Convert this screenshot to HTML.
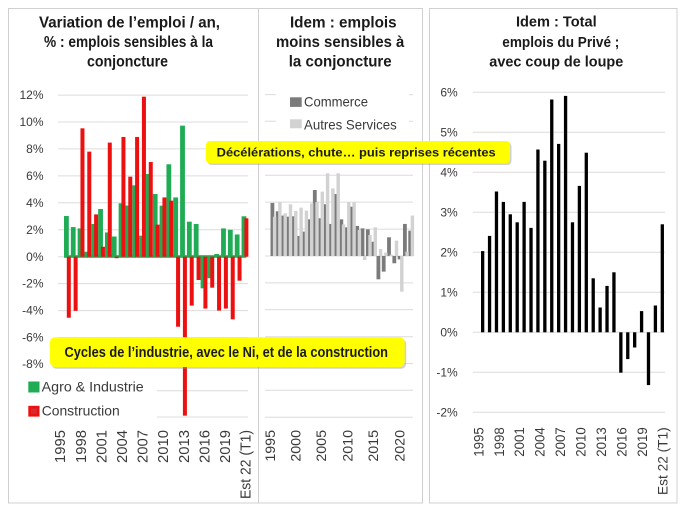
<!DOCTYPE html>
<html><head><meta charset="utf-8"><style>
html,body{margin:0;padding:0;background:#fff;}
svg{display:block;}
text{font-family:"Liberation Sans",Arial,sans-serif;}
</style></head><body>
<svg width="684" height="513" viewBox="0 0 684 513" xmlns="http://www.w3.org/2000/svg">
<rect x="0" y="0" width="684" height="513" fill="#fff"/>
<!-- frames -->
<rect x="8.5" y="8.5" width="414" height="494.5" fill="none" stroke="#d0d0d0" stroke-width="1"/>
<line x1="258.5" y1="8.5" x2="258.5" y2="503" stroke="#d0d0d0" stroke-width="1"/>
<rect x="429.5" y="8.5" width="247.5" height="494.5" fill="none" stroke="#d0d0d0" stroke-width="1"/>

<!-- titles -->
<g font-weight="bold" font-size="16" fill="#1a1a1a" text-anchor="middle">
<text x="129.5" y="27.3" textLength="181" lengthAdjust="spacingAndGlyphs">Variation de l’emploi / an,</text>
<text x="128.5" y="46.8" textLength="169" lengthAdjust="spacingAndGlyphs">% : emplois sensibles à la</text>
<text x="127.5" y="66.4" textLength="81" lengthAdjust="spacingAndGlyphs">conjoncture</text>
<text x="343.3" y="27.3" textLength="106.7" lengthAdjust="spacingAndGlyphs">Idem : emplois</text>
<text x="340.2" y="46.8" textLength="128.3" lengthAdjust="spacingAndGlyphs">moins sensibles à</text>
<text x="340.2" y="66.4" textLength="103" lengthAdjust="spacingAndGlyphs">la conjoncture</text>
</g>
<g font-weight="bold" font-size="15" fill="#1a1a1a" text-anchor="middle">
<text x="556.3" y="26.5" textLength="80.7" lengthAdjust="spacingAndGlyphs">Idem : Total</text>
<text x="560.8" y="47" textLength="117" lengthAdjust="spacingAndGlyphs">emplois du Privé ;</text>
<text x="556.3" y="66.7" textLength="134" lengthAdjust="spacingAndGlyphs">avec coup de loupe</text>
</g>

<!-- panel 1 gridlines -->
<g stroke="#dcdcdc" stroke-width="1">
<line x1="58" x2="248" y1="95.1" y2="95.1"/>
<line x1="58" x2="248" y1="122" y2="122"/>
<line x1="58" x2="248" y1="148.9" y2="148.9"/>
<line x1="58" x2="248" y1="175.9" y2="175.9"/>
<line x1="58" x2="248" y1="202.8" y2="202.8"/>
<line x1="58" x2="248" y1="229.8" y2="229.8"/>
<line x1="58" x2="248" y1="256.7" y2="256.7"/>
<line x1="58" x2="248" y1="283.6" y2="283.6"/>
<line x1="58" x2="248" y1="310.6" y2="310.6"/>
<line x1="58" x2="248" y1="337.5" y2="337.5"/>
<line x1="58" x2="248" y1="364.5" y2="364.5"/>
<line x1="58" x2="248" y1="390.8" y2="390.8"/>
<line x1="58" x2="248" y1="417" y2="417"/>
</g>
<!-- panel 2 gridlines -->
<g stroke="#dcdcdc" stroke-width="1">
<line x1="265" x2="413" y1="94.6" y2="94.6"/>
<line x1="265" x2="413" y1="121.3" y2="121.3"/>
<line x1="265" x2="413" y1="148.2" y2="148.2"/>
<line x1="265" x2="413" y1="175.2" y2="175.2"/>
<line x1="265" x2="413" y1="202.1" y2="202.1"/>
<line x1="265" x2="413" y1="229.1" y2="229.1"/>
<line x1="265" x2="413" y1="256" y2="256"/>
<line x1="265" x2="413" y1="282.9" y2="282.9"/>
<line x1="265" x2="413" y1="309.6" y2="309.6"/>
<line x1="265" x2="413" y1="336.8" y2="336.8"/>
<line x1="265" x2="413" y1="363.5" y2="363.5"/>
<line x1="265" x2="413" y1="390.3" y2="390.3"/>
<line x1="265" x2="413" y1="417.3" y2="417.3"/>
</g>
<!-- panel 3 gridlines -->
<g stroke="#dcdcdc" stroke-width="1">
<line x1="472.7" x2="665" y1="92.3" y2="92.3"/>
<line x1="472.7" x2="665" y1="132.3" y2="132.3"/>
<line x1="472.7" x2="665" y1="172.3" y2="172.3"/>
<line x1="472.7" x2="665" y1="212.3" y2="212.3"/>
<line x1="472.7" x2="665" y1="252.3" y2="252.3"/>
<line x1="472.7" x2="665" y1="292.3" y2="292.3"/>
<line x1="472.7" x2="665" y1="332.3" y2="332.3"/>
<line x1="472.7" x2="665" y1="372.3" y2="372.3"/>
<line x1="472.7" x2="665" y1="412.3" y2="412.3"/>
</g>

<!-- panel 1 y labels -->
<g font-size="12" fill="#3a3a3a" text-anchor="end">
<text x="43.5" y="99.2">12%</text>
<text x="43.5" y="126.1">10%</text>
<text x="43.5" y="153">8%</text>
<text x="43.5" y="180">6%</text>
<text x="43.5" y="206.9">4%</text>
<text x="43.5" y="233.9">2%</text>
<text x="43.5" y="260.8">0%</text>
<text x="43.5" y="287.7">-2%</text>
<text x="43.5" y="314.7">-4%</text>
<text x="43.5" y="341.6">-6%</text>
<text x="43.5" y="368">-8%</text>
</g>
<!-- panel 3 y labels -->
<g font-size="12" fill="#3a3a3a" text-anchor="end">
<text x="457.7" y="96.6">6%</text>
<text x="457.7" y="136.6">5%</text>
<text x="457.7" y="176.6">4%</text>
<text x="457.7" y="216.6">3%</text>
<text x="457.7" y="256.6">2%</text>
<text x="457.7" y="296.6">1%</text>
<text x="457.7" y="336.6">0%</text>
<text x="457.7" y="376.6">-1%</text>
<text x="457.7" y="416.6">-2%</text>
</g>

<!-- panel 1 green bars -->
<rect x="64" y="255.2" width="182.4" height="2.6" fill="#1fac55"/>
<g fill="#1fac55">
<rect x="64" y="216.02" width="4.8" height="40.68"/>
<rect x="70.83" y="227.07" width="4.8" height="29.63"/>
<rect x="77.66" y="228.41" width="4.8" height="28.29"/>
<rect x="84.49" y="251.72" width="4.8" height="4.98"/>
<rect x="91.32" y="223.97" width="4.8" height="32.73"/>
<rect x="98.15" y="209.02" width="4.8" height="47.68"/>
<rect x="104.98" y="232.45" width="4.8" height="24.25"/>
<rect x="111.81" y="236.49" width="4.8" height="20.21"/>
<rect x="118.64" y="203.36" width="4.8" height="53.34"/>
<rect x="125.47" y="205.51" width="4.8" height="51.19"/>
<rect x="132.3" y="185.31" width="4.8" height="71.39"/>
<rect x="139.13" y="235.69" width="4.8" height="21.01"/>
<rect x="145.96" y="173.99" width="4.8" height="82.71"/>
<rect x="152.79" y="194.06" width="4.8" height="62.64"/>
<rect x="159.62" y="205.65" width="4.8" height="51.05"/>
<rect x="166.45" y="164.3" width="4.8" height="92.4"/>
<rect x="173.28" y="197.43" width="4.8" height="59.27"/>
<rect x="180.11" y="125.64" width="4.8" height="131.06"/>
<rect x="186.94" y="221.68" width="4.8" height="35.02"/>
<rect x="193.77" y="223.97" width="4.8" height="32.73"/>
<rect x="200.6" y="256.7" width="4.8" height="31.65"/>
<rect x="207.43" y="256.7" width="4.8" height="21.55"/>
<rect x="214.26" y="254.01" width="4.8" height="2.69"/>
<rect x="221.09" y="228.41" width="4.8" height="28.29"/>
<rect x="227.92" y="229.76" width="4.8" height="26.94"/>
<rect x="234.75" y="234.47" width="4.8" height="22.23"/>
<rect x="241.58" y="216.29" width="4.8" height="40.41"/>
</g>
<!-- panel 1 red bars -->
<g fill="#ec1010">
<rect x="66.8" y="256.7" width="4" height="61.02"/>
<rect x="73.63" y="256.7" width="4" height="54.15"/>
<rect x="80.46" y="128.33" width="4" height="128.37"/>
<rect x="87.29" y="151.63" width="4" height="105.07"/>
<rect x="94.12" y="214.4" width="4" height="42.3"/>
<rect x="100.95" y="246.73" width="4" height="9.97"/>
<rect x="107.78" y="142.61" width="4" height="114.09"/>
<rect x="114.61" y="256.7" width="4" height="1.5"/>
<rect x="121.44" y="136.95" width="4" height="119.75"/>
<rect x="128.27" y="176.69" width="4" height="80.01"/>
<rect x="135.1" y="136.95" width="4" height="119.75"/>
<rect x="141.93" y="96.68" width="4" height="160.02"/>
<rect x="148.76" y="162.01" width="4" height="94.69"/>
<rect x="155.59" y="224.64" width="4" height="32.06"/>
<rect x="162.42" y="197.43" width="4" height="59.27"/>
<rect x="169.25" y="200.66" width="4" height="56.04"/>
<rect x="176.08" y="256.7" width="4" height="70.04"/>
<rect x="182.91" y="256.7" width="4" height="158.95"/>
<rect x="189.74" y="256.7" width="4" height="48.9"/>
<rect x="196.57" y="256.7" width="4" height="23.3"/>
<rect x="203.4" y="256.7" width="4" height="51.86"/>
<rect x="210.23" y="256.7" width="4" height="30.98"/>
<rect x="217.06" y="256.7" width="4" height="53.88"/>
<rect x="223.89" y="256.7" width="4" height="51.86"/>
<rect x="230.72" y="256.7" width="4" height="62.64"/>
<rect x="237.55" y="256.7" width="4" height="23.98"/>
<rect x="244.38" y="218.31" width="4" height="38.39"/>
</g>

<!-- panel 2 dark bars (Commerce) -->
<g fill="#7b7b7b">
<rect x="270.5" y="202.93" width="3.8" height="53.07"/>
<rect x="275.8" y="211.28" width="3.8" height="44.72"/>
<rect x="281.1" y="215.59" width="3.8" height="40.41"/>
<rect x="286.4" y="216.67" width="3.8" height="39.33"/>
<rect x="291.7" y="216.26" width="3.8" height="39.74"/>
<rect x="297" y="235.93" width="3.8" height="20.07"/>
<rect x="302.3" y="231.62" width="3.8" height="24.38"/>
<rect x="307.6" y="219.36" width="3.8" height="36.64"/>
<rect x="312.9" y="190" width="3.8" height="66"/>
<rect x="318.2" y="218.28" width="3.8" height="37.72"/>
<rect x="323.5" y="204.28" width="3.8" height="51.72"/>
<rect x="328.8" y="223.94" width="3.8" height="32.06"/>
<rect x="334.1" y="194.04" width="3.8" height="61.96"/>
<rect x="339.4" y="219.36" width="3.8" height="36.64"/>
<rect x="344.7" y="227.31" width="3.8" height="28.69"/>
<rect x="350" y="206.7" width="3.8" height="49.3"/>
<rect x="355.3" y="225.96" width="3.8" height="30.04"/>
<rect x="360.6" y="228.39" width="3.8" height="27.61"/>
<rect x="365.9" y="229.33" width="3.8" height="26.67"/>
<rect x="371.2" y="241.72" width="3.8" height="14.28"/>
<rect x="376.5" y="256" width="3.8" height="23.3"/>
<rect x="381.8" y="256" width="3.8" height="15.63"/>
<rect x="387.1" y="237.28" width="3.8" height="18.72"/>
<rect x="392.4" y="256" width="3.8" height="7.27"/>
<rect x="397.7" y="256" width="3.8" height="3.37"/>
<rect x="403" y="223.94" width="3.8" height="32.06"/>
<rect x="408.3" y="230.68" width="3.8" height="25.32"/>
</g>
<!-- panel 2 light bars (Autres services) -->
<g fill="#d2d2d2">
<rect x="272.9" y="216.67" width="3.4" height="39.33"/>
<rect x="278.2" y="202.25" width="3.4" height="53.75"/>
<rect x="283.5" y="213.3" width="3.4" height="42.7"/>
<rect x="288.8" y="204.28" width="3.4" height="51.72"/>
<rect x="294.1" y="211.01" width="3.4" height="44.99"/>
<rect x="299.4" y="207.64" width="3.4" height="48.36"/>
<rect x="304.7" y="210.61" width="3.4" height="45.39"/>
<rect x="310" y="203.33" width="3.4" height="52.67"/>
<rect x="315.3" y="202.12" width="3.4" height="53.88"/>
<rect x="320.6" y="191.61" width="3.4" height="64.39"/>
<rect x="325.9" y="173.29" width="3.4" height="82.71"/>
<rect x="331.2" y="188.38" width="3.4" height="67.62"/>
<rect x="336.5" y="173.29" width="3.4" height="82.71"/>
<rect x="341.8" y="224.35" width="3.4" height="31.65"/>
<rect x="347.1" y="202.25" width="3.4" height="53.75"/>
<rect x="352.4" y="202.25" width="3.4" height="53.75"/>
<rect x="357.7" y="230" width="3.4" height="26"/>
<rect x="363" y="256" width="3.4" height="4.04"/>
<rect x="368.3" y="234.99" width="3.4" height="21.01"/>
<rect x="373.6" y="227.31" width="3.4" height="28.69"/>
<rect x="378.9" y="249" width="3.4" height="7"/>
<rect x="384.2" y="252.63" width="3.4" height="3.37"/>
<rect x="389.5" y="254.65" width="3.4" height="1.35"/>
<rect x="394.8" y="240.64" width="3.4" height="15.36"/>
<rect x="400.1" y="256" width="3.4" height="35.7"/>
<rect x="405.4" y="251.69" width="3.4" height="4.31"/>
<rect x="410.7" y="215.59" width="3.4" height="40.41"/>
</g>

<!-- panel 3 bars -->
<g fill="#000">
<rect x="481" y="251.1" width="3.3" height="81.2"/>
<rect x="487.91" y="235.9" width="3.3" height="96.4"/>
<rect x="494.82" y="191.5" width="3.3" height="140.8"/>
<rect x="501.73" y="201.9" width="3.3" height="130.4"/>
<rect x="508.64" y="214.3" width="3.3" height="118"/>
<rect x="515.55" y="222.3" width="3.3" height="110"/>
<rect x="522.46" y="201.9" width="3.3" height="130.4"/>
<rect x="529.37" y="227.9" width="3.3" height="104.4"/>
<rect x="536.28" y="149.5" width="3.3" height="182.8"/>
<rect x="543.19" y="160.7" width="3.3" height="171.6"/>
<rect x="550.1" y="99.5" width="3.3" height="232.8"/>
<rect x="557.01" y="143.9" width="3.3" height="188.4"/>
<rect x="563.92" y="95.9" width="3.3" height="236.4"/>
<rect x="570.83" y="222.3" width="3.3" height="110"/>
<rect x="577.74" y="185.9" width="3.3" height="146.4"/>
<rect x="584.65" y="152.7" width="3.3" height="179.6"/>
<rect x="591.56" y="278.3" width="3.3" height="54"/>
<rect x="598.47" y="307.5" width="3.3" height="24.8"/>
<rect x="605.38" y="285.9" width="3.3" height="46.4"/>
<rect x="612.29" y="272.3" width="3.3" height="60"/>
<rect x="619.2" y="332.3" width="3.3" height="40.4"/>
<rect x="626.11" y="332.3" width="3.3" height="26.8"/>
<rect x="633.02" y="332.3" width="3.3" height="15.2"/>
<rect x="639.93" y="311.1" width="3.3" height="21.2"/>
<rect x="646.84" y="332.3" width="3.3" height="52.8"/>
<rect x="653.75" y="305.5" width="3.3" height="26.8"/>
<rect x="660.66" y="224.3" width="3.3" height="108"/>
</g>

<!-- panel 1 legend -->
<rect x="20" y="372" width="137" height="50" fill="#fff"/>
<rect x="28.3" y="381.5" width="11.2" height="11" fill="#1fac55"/>
<rect x="28.3" y="405.8" width="11.2" height="10.8" fill="#ec1010"/>
<rect x="31" y="408.5" width="5.8" height="5.4" fill="#c84040" opacity="0.6"/>
<g font-size="14" fill="#3a3a3a">
<text x="41.7" y="391.7" textLength="102" lengthAdjust="spacingAndGlyphs">Agro &amp; Industrie</text>
<text x="41.7" y="415.5" textLength="78" lengthAdjust="spacingAndGlyphs">Construction</text>
</g>

<!-- panel 2 legend -->
<rect x="276" y="88" width="133" height="48" fill="#fff"/>
<rect x="290" y="97.3" width="11.7" height="9.6" fill="#7b7b7b"/>
<rect x="290" y="119.3" width="11.7" height="9" fill="#d2d2d2"/>
<g font-size="14" fill="#3a3a3a">
<text x="304" y="106.7" textLength="64" lengthAdjust="spacingAndGlyphs">Commerce</text>
<text x="304" y="129.3" textLength="92.7" lengthAdjust="spacingAndGlyphs">Autres Services</text>
</g>

<!-- x labels panel 1 -->
<g font-size="15" fill="#3a3a3a" text-anchor="end">
<text transform="translate(65.2,430) rotate(-90)" textLength="33" lengthAdjust="spacingAndGlyphs">1995</text>
<text transform="translate(85.8,430) rotate(-90)" textLength="33" lengthAdjust="spacingAndGlyphs">1998</text>
<text transform="translate(106.4,430) rotate(-90)" textLength="33" lengthAdjust="spacingAndGlyphs">2001</text>
<text transform="translate(127,430) rotate(-90)" textLength="33" lengthAdjust="spacingAndGlyphs">2004</text>
<text transform="translate(147.6,430) rotate(-90)" textLength="33" lengthAdjust="spacingAndGlyphs">2007</text>
<text transform="translate(168.2,430) rotate(-90)" textLength="33" lengthAdjust="spacingAndGlyphs">2010</text>
<text transform="translate(188.8,430) rotate(-90)" textLength="33" lengthAdjust="spacingAndGlyphs">2013</text>
<text transform="translate(209.4,430) rotate(-90)" textLength="33" lengthAdjust="spacingAndGlyphs">2016</text>
<text transform="translate(230,430) rotate(-90)" textLength="33" lengthAdjust="spacingAndGlyphs">2019</text>
<text transform="translate(250.6,430) rotate(-90)" textLength="69" lengthAdjust="spacingAndGlyphs">Est 22 (T1)</text>
</g>
<!-- x labels panel 2 -->
<g font-size="14" fill="#3a3a3a" text-anchor="end">
<text transform="translate(274.8,430) rotate(-90)" textLength="31.7" lengthAdjust="spacingAndGlyphs">1995</text>
<text transform="translate(300.3,430) rotate(-90)" textLength="31.7" lengthAdjust="spacingAndGlyphs">2000</text>
<text transform="translate(326.1,430) rotate(-90)" textLength="31.7" lengthAdjust="spacingAndGlyphs">2005</text>
<text transform="translate(352.3,430) rotate(-90)" textLength="31.7" lengthAdjust="spacingAndGlyphs">2010</text>
<text transform="translate(378,430) rotate(-90)" textLength="31.7" lengthAdjust="spacingAndGlyphs">2015</text>
<text transform="translate(404.7,430) rotate(-90)" textLength="31.7" lengthAdjust="spacingAndGlyphs">2020</text>
</g>
<!-- x labels panel 3 -->
<g font-size="13.5" fill="#3a3a3a" text-anchor="end">
<text transform="translate(483.3,427.3) rotate(-90)" textLength="29.4" lengthAdjust="spacingAndGlyphs">1995</text>
<text transform="translate(503.8,427.3) rotate(-90)" textLength="29.4" lengthAdjust="spacingAndGlyphs">1998</text>
<text transform="translate(524.2,427.3) rotate(-90)" textLength="29.4" lengthAdjust="spacingAndGlyphs">2001</text>
<text transform="translate(544.7,427.3) rotate(-90)" textLength="29.4" lengthAdjust="spacingAndGlyphs">2004</text>
<text transform="translate(565.1,427.3) rotate(-90)" textLength="29.4" lengthAdjust="spacingAndGlyphs">2007</text>
<text transform="translate(585.6,427.3) rotate(-90)" textLength="29.4" lengthAdjust="spacingAndGlyphs">2010</text>
<text transform="translate(606,427.3) rotate(-90)" textLength="29.4" lengthAdjust="spacingAndGlyphs">2013</text>
<text transform="translate(626.5,427.3) rotate(-90)" textLength="29.4" lengthAdjust="spacingAndGlyphs">2016</text>
<text transform="translate(646.9,427.3) rotate(-90)" textLength="29.4" lengthAdjust="spacingAndGlyphs">2019</text>
<text transform="translate(667.3,427.3) rotate(-90)" textLength="67.7" lengthAdjust="spacingAndGlyphs">Est 22 (T1)</text>
</g>

<!-- callout 1 -->
<rect x="207.5" y="142.5" width="304" height="22.5" rx="4" fill="#9a9a9a" opacity="0.45"/>
<rect x="206" y="141" width="304" height="22.5" rx="4" fill="#ffff00"/>
<text x="216.7" y="156.7" font-size="12" font-weight="bold" fill="#1a1a1a" textLength="279" lengthAdjust="spacingAndGlyphs">Décélérations, chute…  puis reprises récentes</text>

<!-- callout 2 -->
<rect x="51.5" y="339" width="354.7" height="29.7" rx="5" fill="#9a9a9a" opacity="0.45"/>
<rect x="50" y="337.3" width="354.7" height="29.7" rx="5" fill="#ffff00"/>
<text x="64.5" y="357" font-size="14.5" font-weight="bold" fill="#1a1a1a" textLength="323.5" lengthAdjust="spacingAndGlyphs">Cycles de l’industrie, avec le Ni, et de la construction</text>
</svg>
</body></html>
